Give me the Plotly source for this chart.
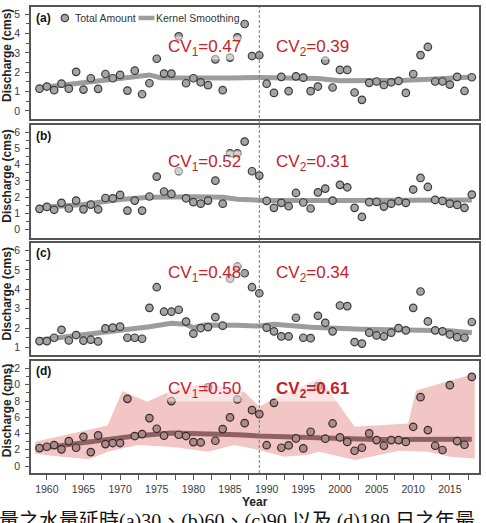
import plotly.graph_objects as go

# ---------------- data ----------------
years = list(range(1959, 2019))

q30 = [1.15, 1.26, 1.07, 1.41, 1.15, 2.02, 1.10, 1.69, 1.14, 1.91,
       1.69, 1.86, 1.05, 2.08, 0.86, 1.43, 2.70, 1.93, 1.93, 3.86,
       1.43, 1.69, 1.48, 1.33, 2.67, 1.07, 2.76, 3.81, 4.50, 2.84,
       2.88, 1.41, 0.93, 1.76, 1.02, 1.79, 1.72, 1.02, 1.26, 2.60,
       1.21, 2.12, 2.12, 0.95, 0.57, 1.45, 1.52, 1.34, 1.48, 1.55,
       0.93, 1.91, 2.89, 3.31, 1.52, 1.52, 1.36, 1.76, 1.03, 1.74]

q60 = [1.28, 1.40, 1.22, 1.65, 1.30, 1.79, 1.25, 1.54, 1.25, 1.95,
       1.93, 2.14, 1.17, 1.79, 1.17, 2.04, 3.27, 2.35, 2.20, 3.60,
       1.93, 1.69, 1.60, 1.79, 3.02, 1.60, 4.71, 4.71, 5.43, 3.60,
       3.33, 1.77, 1.34, 1.65, 1.44, 2.26, 1.67, 1.30, 2.30, 2.53,
       1.79, 2.76, 2.61, 1.34, 0.78, 1.69, 1.71, 1.42, 1.60, 1.75,
       1.65, 2.47, 3.19, 2.63, 1.83, 1.77, 1.60, 1.52, 1.34, 2.16]

q90 = [1.34, 1.34, 1.51, 1.92, 1.37, 1.65, 1.36, 1.41, 1.32, 1.99,
       2.03, 2.08, 1.51, 1.51, 1.46, 3.05, 4.11, 2.85, 2.85, 2.95,
       2.34, 1.72, 2.01, 2.06, 2.57, 2.13, 4.55, 5.17, 4.83, 4.11,
       3.80, 2.03, 1.84, 1.58, 1.58, 2.54, 1.51, 1.49, 2.64, 2.28,
       1.84, 3.17, 3.14, 1.29, 1.21, 1.77, 1.63, 1.58, 1.77, 2.01,
       1.89, 3.05, 3.89, 2.35, 1.89, 1.84, 1.68, 1.54, 1.51, 2.32]

q180 = [2.21, 2.37, 2.58, 2.05, 3.07, 2.25, 3.60, 1.72, 3.77, 2.70,
        2.83, 2.83, 8.27, 3.69, 3.93, 5.90, 4.59, 3.73, 7.99, 3.85,
        3.69, 2.95, 2.90, 9.70, 3.11, 4.55, 5.98, 8.19, 5.28, 6.88,
        6.39, 2.56, 7.78, 2.25, 2.54, 3.40, 2.17, 4.22, 9.80, 3.36,
        5.24, 3.52, 2.97, 1.88, 2.25, 4.01, 3.19, 2.50, 3.19, 3.19,
        2.97, 4.83, 8.48, 4.42, 2.50, 1.97, 9.95, 3.07, 2.62, 10.97]

smooth30_years = [1959, 1962, 1965, 1968, 1971, 1974, 1975.5, 1980, 1985, 1989,
                  1992, 1997, 2000, 2005, 2009, 2013, 2018]
smooth30 = [1.20, 1.33, 1.47, 1.65, 1.75, 1.86, 1.72, 1.70, 1.70, 1.73,
            1.70, 1.68, 1.56, 1.55, 1.58, 1.65, 1.75]

smooth60_years = [1959, 1965, 1970, 1974, 1980, 1984, 1986, 1989, 1990, 2000, 2010, 2018]
smooth60 = [1.36, 1.55, 1.85, 2.00, 2.02, 2.00, 1.87, 1.87, 1.80, 1.79, 1.80, 1.82]

smooth90_years = [1959, 1965, 1970, 1974, 1977, 1979, 1980, 1981.5, 1986, 1989,
                  1991, 1996, 2003, 2010, 2015, 2018]
smooth90 = [1.39, 1.65, 1.90, 2.08, 2.25, 2.20, 2.03, 2.16, 2.15, 2.11,
            2.20, 2.05, 1.95, 1.90, 1.87, 1.77]

smooth180_years = [1959, 1963, 1968, 1972, 1977, 1983, 1986, 1989, 1995, 1998, 2005, 2018]
smooth180 = [2.17, 2.60, 3.19, 3.69, 4.05, 4.00, 3.85, 3.70, 3.55, 3.35, 3.25, 3.30]

band_upper_years = [1958.4, 1968.3, 1970.3, 1973.7, 1977.8, 1982, 1985.5, 1987, 1989,
                    1991, 1997.3, 2002, 2009.3, 2010.4, 2018.4]
band_upper = [3.0, 5.0, 9.25, 7.9, 9.6, 10.2, 9.4, 9.1, 7.3,
              8.3, 10.8, 4.83, 5.24, 9.3, 11.4]
band_lower_years = [1958.4, 1962, 1965.8, 1968.3, 1972.4, 1977.5, 1982, 1985.6, 1989,
                    1992.4, 1995.5, 1997.1, 2002.1, 2006.2, 2008, 2012, 2015, 2018.4]
band_lower = [1.5, 1.15, 0.82, 1.76, 2.58, 2.3, 1.76, 2.58, 1.97,
              1.15, 1.35, 1.76, 0.74, 1.56, 1.88, 1.76, 1.15, 0.94]

change_year = 1989
panel_labels = ["(a)", "(b)", "(c)", "(d)"]
cv1_labels = ["0.47", "0.52", "0.48", "0.50"]
cv2_labels = ["0.39", "0.31", "0.34", "0.61"]
legend_labels = ["Total Amount", "Kernel Smoothing"]
y_title = "Discharge (cms)"
x_title = "Year"
caption = "量之水量延時(a)30、(b)60、(c)90 以及 (d)180 日之年最"

# ---------------- layout helpers (pixel -> paper) ----------------
W, H = 486, 523
L, R, T, B = 31, 5, 6, 50
PW, PH = W - L - R, H - T - B


def px(p):
    return (p - L) / PW


def py(p):
    return (H - B - p) / PH


panels_px = [(6, 118), (124, 237), (243, 355), (361, 473)]
y_ranges = [[-0.41, 5.38], [-0.49, 6.47], [0.61, 6.36], [-0.86, 12.9]]
y_dticks = [1, 1, 1, 2]
y_minor = [0.5, 0.5, 0.5, 1]
x_range = [1957.84, 2018.98]

series = [q30, q60, q90, q180]
smooth_x = [smooth30_years, smooth60_years, smooth90_years, smooth180_years]
smooth_y = [smooth30, smooth60, smooth90, smooth180]

FONT = "Arial, Liberation Sans, sans-serif"
FRAME = "#555555"
RED = "#c4222a"

fig = go.Figure()

for i in range(4):
    xa = "x" if i == 0 else f"x{i+1}"
    ya = "y" if i == 0 else f"y{i+1}"
    if i == 3:
        fig.add_trace(go.Scatter(
            x=band_upper_years + band_lower_years[::-1],
            y=band_upper + band_lower[::-1],
            fill="toself", fillcolor="#f3c6c6", mode="lines",
            line=dict(width=0), hoverinfo="skip", showlegend=False,
            xaxis=xa, yaxis=ya))
        lc, mc, oc = "#8e6262", "#ab8b8b", "#3d2828"
    else:
        lc, mc, oc = "#9c9c9c", "#a4a4a4", "#3a3a3a"
    fig.add_trace(go.Scatter(
        x=smooth_x[i], y=smooth_y[i], mode="lines",
        line=dict(color=lc, width=5), showlegend=False,
        xaxis=xa, yaxis=ya))
    fig.add_trace(go.Scatter(
        x=years, y=series[i], mode="markers",
        marker=dict(size=7.5, color=mc, line=dict(color=oc, width=1.2)),
        showlegend=False, xaxis=xa, yaxis=ya))

layout = dict(
    width=W, height=H,
    margin=dict(l=L, r=R, t=T, b=B, pad=0),
    paper_bgcolor="white", plot_bgcolor="rgba(0,0,0,0)",
    showlegend=False,
    font=dict(family=FONT, color="#333333"),
)

for i in range(4):
    top, bot = panels_px[i]
    xkey = "xaxis" if i == 0 else f"xaxis{i+1}"
    ykey = "yaxis" if i == 0 else f"yaxis{i+1}"
    yid = "y" if i == 0 else f"y{i+1}"
    xid = "x" if i == 0 else f"x{i+1}"
    xa = dict(domain=[0, 1], range=x_range, anchor=yid, showline=True, mirror=True,
              linecolor=FRAME, linewidth=1.5, showgrid=False, zeroline=False)
    if i == 3:
        xa.update(tickmode="linear", tick0=1960, dtick=5, ticks="outside", ticklen=5,
                  tickwidth=1, tickcolor=FRAME, tickfont=dict(size=10.5, color="#3a3a3a"),
                  ticklabelstandoff=1,
                  minor=dict(tick0=1960, dtick=2.5, ticks="outside", ticklen=5,
                             tickwidth=1, tickcolor=FRAME))
    else:
        xa.update(ticks="", showticklabels=False)
    layout[xkey] = xa
    layout[ykey] = dict(domain=[py(bot), py(top)], range=y_ranges[i], anchor=xid,
                        showline=True, mirror=True, linecolor=FRAME, linewidth=1.5,
                        showgrid=False, zeroline=False, tickmode="linear", tick0=0,
                        dtick=y_dticks[i], ticks="outside", ticklen=4, tickwidth=1,
                        tickcolor=FRAME, tickfont=dict(size=10.5, color="#3a3a3a"),
                        ticklabelstandoff=3,
                        minor=dict(dtick=y_minor[i], tick0=0, ticks="outside", ticklen=3,
                                   tickwidth=1, tickcolor=FRAME))

fig.update_layout(**layout)

annotations = []
label_y = [17, 135, 253, 371]
cv_y = [47, 162, 274, 390]
ytitle_y = [55, 176, 294, 411]
for i in range(4):
    annotations.append(dict(text=f"<b>{panel_labels[i]}</b>", x=px(34), y=py(label_y[i]),
                            xref="paper", yref="paper", xanchor="left", yanchor="middle",
                            showarrow=False, font=dict(size=12, color="#111111")))
    bold = i == 3
    t1 = f"CV<sub>1</sub>={cv1_labels[i]}"
    t2 = f"CV<sub>2</sub>={cv2_labels[i]}"
    if bold:
        t2 = f"<b>{t2}</b>"
    for t, x0 in ((t1, 168), (t2, 276)):
        annotations.append(dict(text=t, x=px(x0), y=py(cv_y[i]), xref="paper", yref="paper",
                                xanchor="left", yanchor="middle", showarrow=False,
                                bgcolor="rgba(255,255,255,0.5)", borderpad=0,
                                font=dict(size=17, color=RED)))
    annotations.append(dict(text=f"<b>{y_title}</b>", x=px(7), y=py(ytitle_y[i]),
                            xref="paper", yref="paper", xanchor="center", yanchor="middle",
                            textangle=-90, showarrow=False,
                            font=dict(size=12, color="#222222")))

annotations.append(dict(text=legend_labels[0], x=px(73), y=py(17), xref="paper", yref="paper",
                        xanchor="left", yanchor="middle", showarrow=False,
                        font=dict(size=10.5, color="#333333")))
annotations.append(dict(text=legend_labels[1], x=px(155), y=py(17), xref="paper", yref="paper",
                        xanchor="left", yanchor="middle", showarrow=False,
                        font=dict(size=10.5, color="#333333")))
annotations.append(dict(text=f"<b>{x_title}</b>", x=px(256), y=py(502.5), xref="paper", yref="paper",
                        xanchor="center", yanchor="middle", showarrow=False,
                        font=dict(size=12, color="#222222")))
annotations.append(dict(text=caption, x=px(-3), y=py(508), xref="paper", yref="paper",
                        xanchor="left", yanchor="top", showarrow=False,
                        font=dict(size=20, color="#111111",
                                  family="Liberation Serif, Noto Sans CJK TC, serif")))

shapes = [
    dict(type="line", xref="x4", yref="paper", x0=change_year, x1=change_year, y0=0, y1=1,
         line=dict(color="#777777", width=1, dash="3px,2px"), layer="above"),
    dict(type="circle", xref="paper", yref="paper", xsizemode="pixel", ysizemode="pixel",
         xanchor=px(65), yanchor=py(17), x0=-3.7, x1=3.7, y0=-3.7, y1=3.7,
         fillcolor="#a4a4a4", line=dict(color="#3a3a3a", width=1.2)),
    dict(type="line", xref="paper", yref="paper", x0=px(139), x1=px(155), y0=py(17), y1=py(17),
         line=dict(color="#9c9c9c", width=4.5)),
]

fig.update_layout(annotations=annotations, shapes=shapes)
fig.write_html("out.html")
